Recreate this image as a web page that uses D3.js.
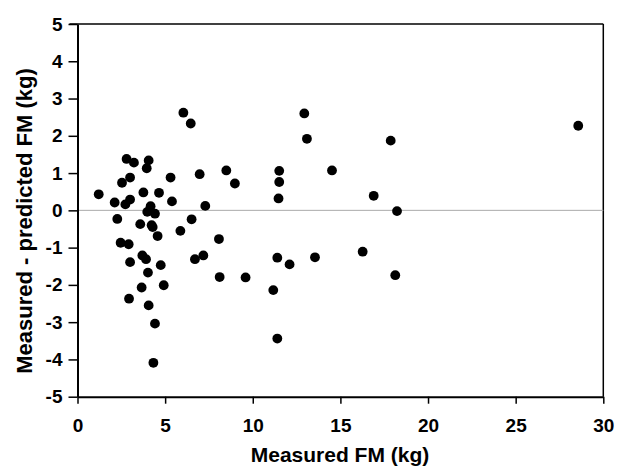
<!DOCTYPE html>
<html><head><meta charset="utf-8">
<script src="https://cdn.jsdelivr.net/npm/d3@7"></script>
<style>body{margin:0;background:#fff}text{font-family:"Liberation Sans",Arial,sans-serif;font-weight:bold}</style>
</head><body>
<svg id="c" width="617" height="470"></svg>
<script>
const measuredFM = [1.21,2.12,2.73,3.0,2.54,3.0,2.8,3.22,4.06,3.95,3.76,4.65,5.31,5.39,4.17,3.98,4.42,2.27,3.58,4.23,4.29,4.57,5.87,6.51,6.97,7.29,6.04,6.46,2.46,2.92,3.70,3.91,3.0,4.75,6.70,7.18,4.02,3.66,4.92,2.94,4.06,4.42,4.33,8.49,8.98,11.51,11.51,11.47,12.94,13.09,14.52,16.9,17.87,18.23,8.07,11.4,12.1,13.55,16.27,8.11,9.59,18.13,11.17,11.4,28.57];
const difference = [0.43,0.21,0.16,0.29,0.74,0.88,1.38,1.28,1.34,1.13,0.48,0.47,0.88,0.24,0.11,-0.04,-0.09,-0.23,-0.37,-0.40,-0.45,-0.69,-0.55,-0.24,0.97,0.12,2.62,2.33,-0.87,-0.91,-1.21,-1.31,-1.39,-1.47,-1.31,-1.21,-1.67,-2.07,-2.01,-2.37,-2.55,-3.04,-4.09,1.07,0.72,1.06,0.76,0.32,2.60,1.92,1.07,0.39,1.87,-0.02,-0.77,-1.27,-1.45,-1.26,-1.11,-1.79,-1.80,-1.74,-2.14,-3.44,2.27];
const xTicks = [0,5,10,15,20,25,30];
const yTicks = [-5,-4,-3,-2,-1,0,1,2,3,4,5];
const xTitle = "Measured FM (kg)";
const yTitle = "Measured - predicted FM (kg)";

const svg = d3.select("#c");
const L=77.5,R=603.3,T=24,B=396.7;
const x = d3.scaleLinear().domain([0,30]).range([L,R]);
const y = d3.scaleLinear().domain([-5,5]).range([B,T]);

svg.append("line").attr("x1",L-8).attr("x2",R).attr("y1",T).attr("y2",T).attr("stroke","#000").attr("stroke-width",1.5);
svg.append("line").attr("x1",R).attr("x2",R).attr("y1",T).attr("y2",B).attr("stroke","#000").attr("stroke-width",1.5);
svg.append("line").attr("x1",L).attr("x2",R).attr("y1",y(0)).attr("y2",y(0)).attr("stroke","#aaa").attr("stroke-width",1);

const fmt = d => String(d);
const xa = svg.append("g").attr("transform",`translate(0,${B})`)
  .call(d3.axisBottom(x).tickValues(xTicks).tickFormat(fmt).tickSize(7).tickPadding(15).tickSizeOuter(0));
const ya = svg.append("g").attr("transform",`translate(${L},0)`)
  .call(d3.axisLeft(y).tickValues(yTicks).tickFormat(fmt).tickSize(9).tickPadding(6).tickSizeOuter(0));
[xa,ya].forEach(g=>{
  g.select(".domain").attr("stroke","#000").attr("stroke-width",2);
  g.selectAll(".tick line").attr("stroke","#000").attr("stroke-width",1.5);
  g.selectAll(".tick text").attr("fill","#000").style("font-size","19px").style("font-family","'Liberation Sans',Arial,sans-serif").style("font-weight","bold");
});

svg.append("g").selectAll("circle").data(measuredFM).join("circle")
  .attr("cx",d=>x(d)).attr("cy",(d,i)=>y(difference[i])).attr("r",4.9).attr("fill","#000");

svg.append("text").attr("x",340).attr("y",462).attr("text-anchor","middle").style("font-size","21px").text(xTitle);
svg.append("text").attr("transform",`translate(32,221) rotate(-90)`).attr("text-anchor","middle").style("font-size","22px").text(yTitle);
</script>
</body></html>
